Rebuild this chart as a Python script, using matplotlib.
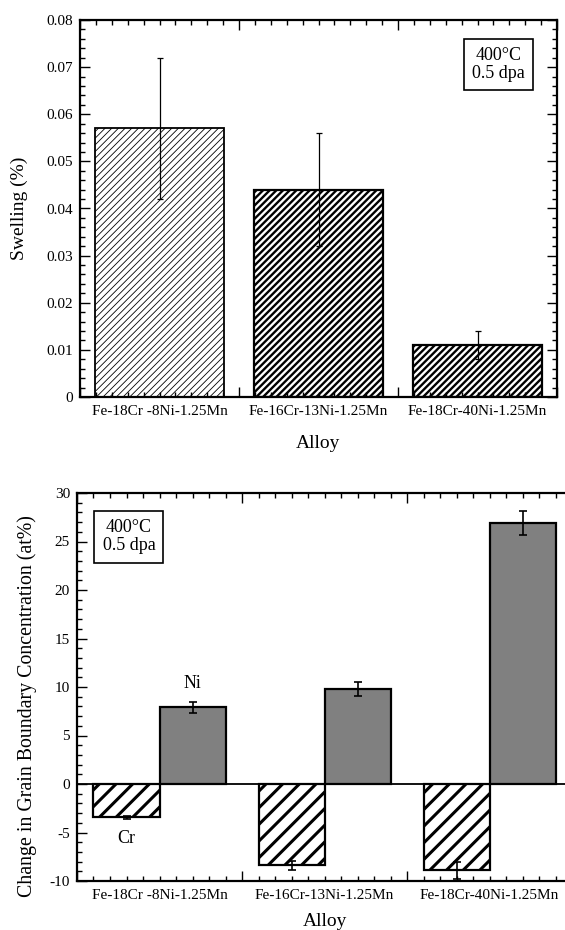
import numpy as np
import matplotlib
matplotlib.use("Agg")
import matplotlib.pyplot as plt

# data
alloys = ["Fe-18Cr -8Ni-1.25Mn", "Fe-16Cr-13Ni-1.25Mn", "Fe-18Cr-40Ni-1.25Mn"]
swelling = [0.057, 0.044, 0.011]
swelling_err = [0.015, 0.012, 0.003]
cr_change = [-3.45, -8.4, -8.9]
cr_err = [0.15, 0.5, 0.85]
ni_change = [7.9, 9.8, 26.9]
ni_err = [0.6, 0.7, 1.25]

plt.rcParams['font.family'] = ['Liberation Serif', 'DejaVu Serif']
plt.rcParams['axes.unicode_minus'] = False
plt.rcParams['axes.linewidth'] = 1.6

fig = plt.figure(figsize=(5.65, 9.3), dpi=100)
x = np.arange(len(alloys))


def set_hatch_lw(bars, lw):
  for b in bars:
    try:
      b.set_hatch_linewidth(lw)
    except AttributeError:
      pass


def style_axis(ax, right=True):
  # major ticks at group boundaries, minor every 0.1, labels at group centers
  ax.set_xlim(-0.5, len(alloys) - 0.5)
  bounds = np.arange(-0.5, len(alloys), 1.0)
  ax.set_xticks(bounds, labels=[''] * len(bounds))
  minor = [round(v, 1) for v in np.arange(-0.4, len(alloys) - 0.5, 0.1)]
  minor = [v for v in minor if abs(v - round(v) - 0.5) > 1e-6 and abs(v - round(v) + 0.5) > 1e-6]
  labs = [alloys[int(round(v))] if abs(v - round(v)) < 1e-6 else '' for v in minor]
  ax.set_xticks(minor, labels=labs, minor=True)
  ax.tick_params(axis='both', which='both', direction='in', top=True, right=right, width=1)
  ax.tick_params(axis='both', which='major', length=7)
  ax.tick_params(axis='both', which='minor', length=3.5)
  ax.tick_params(axis='x', which='both', labelsize=11, pad=6)
  ax.tick_params(axis='y', which='both', labelsize=11, pad=5)


# ---- top panel: swelling ----
ax1 = fig.add_axes([80 / 565, 1 - 397 / 930, 477 / 565, 377 / 930])
with plt.rc_context({'hatch.linewidth': 0.6}):
  b1 = ax1.bar(x[:1], swelling[:1], width=0.81, color='white', edgecolor='black',
               linewidth=1.3, hatch='/////')
set_hatch_lw(b1, 0.6)
with plt.rc_context({'hatch.linewidth': 1.7}):
  b2 = ax1.bar(x[1:], swelling[1:], width=0.81, color='white', edgecolor='black',
               linewidth=1.6, hatch='/////')
set_hatch_lw(b2, 1.7)
ax1.errorbar(x, swelling, yerr=swelling_err, fmt='none', ecolor='black',
             elinewidth=0.9, capsize=2.5, capthick=0.9)
style_axis(ax1)
ax1.set_ylim(0, 0.08)
ax1.set_yticks(np.arange(0, 0.081, 0.01))
ax1.set_yticks(np.arange(0, 0.081, 0.002), minor=True)
ax1.set_yticklabels(['%g' % v for v in np.round(np.arange(0, 0.081, 0.01), 2)])
ax1.set_ylabel('Swelling (%)', fontsize=14, labelpad=13)
ax1.set_xlabel('Alloy', fontsize=14, labelpad=12)
ax1.text(0.878, 0.882, '400°C\n0.5 dpa', transform=ax1.transAxes, ha='center', va='center',
         fontsize=13, linespacing=1.1,
         bbox=dict(boxstyle='square,pad=0.45', facecolor='white', edgecolor='black', linewidth=1.2))

# ---- bottom panel: grain boundary concentration ----
ax2 = fig.add_axes([77 / 565, 1 - 881 / 930, 495 / 565, 388 / 930])
with plt.rc_context({'hatch.linewidth': 2.2}):
  b3 = ax2.bar(x - 0.2, cr_change, width=0.4, color='white', edgecolor='black',
               linewidth=1.6, hatch='//')
set_hatch_lw(b3, 2.2)
ax2.bar(x + 0.2, ni_change, width=0.4, color='#808080', edgecolor='black', linewidth=1.6)
ax2.errorbar(x - 0.2, cr_change, yerr=cr_err, fmt='none', ecolor='black',
             elinewidth=1.2, capsize=3, capthick=1.2)
ax2.errorbar(x + 0.2, ni_change, yerr=ni_err, fmt='none', ecolor='black',
             elinewidth=1.2, capsize=3, capthick=1.2)
ax2.axhline(0, color='black', linewidth=1.3)
style_axis(ax2, right=False)
ax2.set_ylim(-10, 30)
ax2.set_yticks(np.arange(-10, 31, 5))
ax2.set_yticks(np.arange(-10, 31, 1), minor=True)
ax2.set_ylabel('Change in Grain Boundary Concentration (at%)', fontsize=14.3, labelpad=9)
ax2.yaxis.label.set_y(0.45)
ax2.set_xlabel('Alloy', fontsize=14, labelpad=8)
ax2.text(0.2, 10.4, 'Ni', ha='center', va='center', fontsize=13)
ax2.text(-0.2, -5.65, 'Cr', ha='center', va='center', fontsize=13)
ax2.text(0.105, 0.887, '400°C\n0.5 dpa', transform=ax2.transAxes, ha='center', va='center',
         fontsize=13, linespacing=1.1,
         bbox=dict(boxstyle='square,pad=0.45', facecolor='white', edgecolor='black', linewidth=1.2))

fig.savefig('out.png', dpi=100)
